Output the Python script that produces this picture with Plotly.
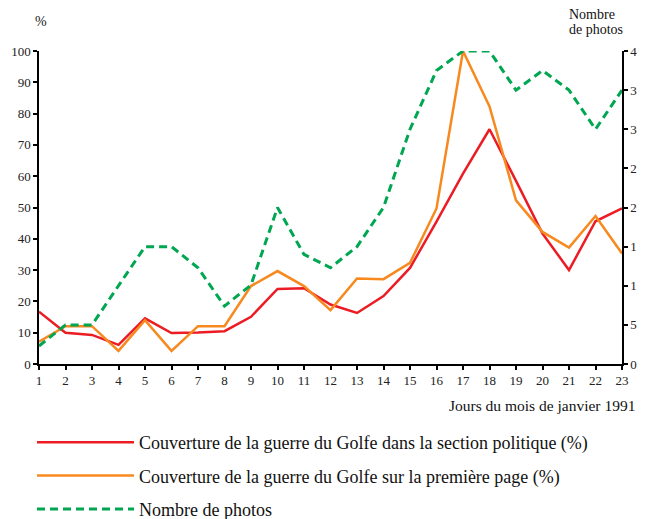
import plotly.graph_objects as go

days = list(range(1, 24))
politique = [16.7, 10.0, 9.3, 6.1, 14.6, 9.9, 10.1, 10.5, 15.1, 24.0, 24.2, 19.0, 16.3,
             21.7, 30.7, 45.5, 60.8, 75.0, 58.5, 41.7, 30.0, 45.6, 49.7]
premiere = [7.1, 12.1, 12.1, 4.2, 14.0, 4.2, 12.1, 12.1, 24.9, 29.7, 24.9, 17.2, 27.3,
            27.1, 32.3, 49.7, 100.0, 82.3, 52.3, 42.2, 37.2, 47.3, 35.3]
photos = [2.3, 5.0, 5.0, 10.0, 15.0, 15.0, 12.3, 7.4, 10.1, 20.0, 14.0, 12.3, 15.0,
          20.0, 30.0, 37.5, 40.0, 40.0, 35.0, 37.5, 35.0, 30.0, 35.0]
left_ticks = list(range(0, 101, 10))
right_ticks = list(range(0, 41, 5))

names = ["Couverture de la guerre du Golfe dans la section politique (%)",
         "Couverture de la guerre du Golfe sur la première page (%)",
         "Nombre de photos"]

FONT = "Liberation Serif"

fig = go.Figure()
fig.add_trace(go.Scatter(x=days, y=politique, mode="lines", name=names[0],
                         line=dict(color="#ec1c24", width=2.5), legendgroup="a",
                         xaxis="x", yaxis="y"))
fig.add_trace(go.Scatter(x=days, y=premiere, mode="lines", name=names[1],
                         line=dict(color="#f7891f", width=2.5), legendgroup="b",
                         xaxis="x", yaxis="y"))
fig.add_trace(go.Scatter(x=days, y=photos, mode="lines", name=names[2],
                         line=dict(color="#00a651", width=3, dash="8px,5px"), legendgroup="c",
                         xaxis="x", yaxis="y2"))

axcommon = dict(showgrid=False, zeroline=False, showline=True, linecolor="black",
                linewidth=1.5, tickcolor="black", tickwidth=1.5, ticklen=4,
                automargin=False,
                tickfont=dict(family=FONT, size=13, color="#222"))

fig.update_layout(
    template="none",
    width=645, height=511,
    margin=dict(l=31, r=31, t=43, b=155),
    paper_bgcolor="white", plot_bgcolor="white",
    font=dict(family=FONT, color="#222"),
    xaxis=dict(range=[1, 23], tickvals=days, ticks="outside", anchor="y", **axcommon),
    xaxis2=dict(range=[1, 23], tickvals=days, ticks="inside", overlaying="x", anchor="y",
                showticklabels=False, **axcommon),
    yaxis=dict(range=[0, 100], tickvals=left_ticks, ticks="outside", anchor="x", **axcommon),
    yaxis2=dict(range=[0, 40], tickvals=right_ticks, ticks="outside", side="right",
                overlaying="y", anchor="x", **axcommon),
    yaxis3=dict(range=[0, 100], tickvals=left_ticks, ticks="inside", overlaying="y",
                anchor="x", showticklabels=False, **axcommon),
    yaxis4=dict(range=[0, 40], tickvals=right_ticks, ticks="inside", side="right",
                overlaying="y", anchor="x", showticklabels=False, **axcommon),
    showlegend=True,
    legend=dict(xref="paper", yref="container", x=-0.012, xanchor="left",
                y=0.186, yanchor="top", traceorder="grouped",
                tracegroupgap=7, itemwidth=97,
                font=dict(family=FONT, size=18, color="#111"), bgcolor="rgba(0,0,0,0)"),
    annotations=[
        dict(text="%", xref="paper", yref="paper", x=0.003, y=1.095, showarrow=False,
             font=dict(family=FONT, size=14, color="#222"), xanchor="center", yanchor="middle"),
        dict(text="Nombre", xref="paper", yref="paper", x=0.905, y=1.118,
             showarrow=False, align="left", xanchor="left", yanchor="middle",
             font=dict(family=FONT, size=14, color="#111")),
        dict(text="de photos", xref="paper", yref="paper", x=0.905, y=1.068,
             showarrow=False, align="left", xanchor="left", yanchor="middle",
             font=dict(family=FONT, size=14, color="#111")),
        dict(text="Jours du mois de janvier 1991", xref="paper", yref="paper", x=1, xshift=15,
             y=-0.134, showarrow=False, xanchor="right", yanchor="middle",
             font=dict(family=FONT, size=15.5, color="#111")),
    ],
)

fig.write_html("out.html")
